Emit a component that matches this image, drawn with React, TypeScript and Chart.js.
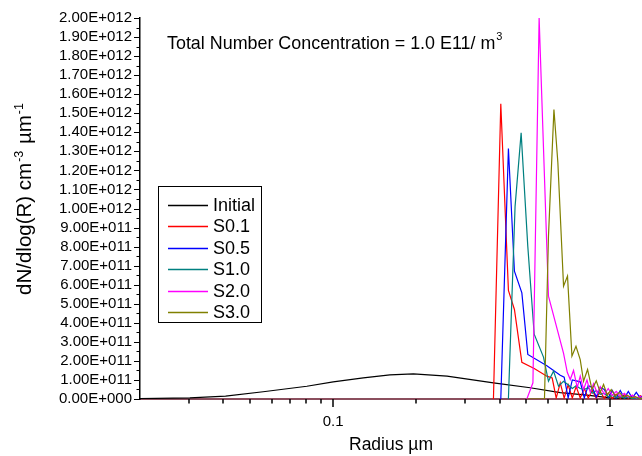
import React, { useEffect, useRef } from 'react';
import { Chart, registerables } from 'chart.js';

Chart.register(...registerables);

const FONT = '"Liberation Sans", Arial, Helvetica, sans-serif';

// [radius (µm), dN/dlog(R) in units of 1E11]
const initial: [number, number][] = [
  [0.02, 0.02], [0.0303, 0.06], [0.0408, 0.15], [0.0558, 0.38], [0.0803, 0.67], [0.1, 0.9],
  [0.1285, 1.11], [0.1604, 1.27], [0.195, 1.32], [0.2582, 1.2], [0.38, 0.85], [0.516, 0.59],
  [0.663, 0.33], [0.828, 0.2], [1.006, 0.06], [1.31, 0.01],
];
const s01: [number, number][] = [
  [0.38, 0], [0.404, 15.5], [0.4305, 5.7], [0.4526, 4.7], [0.4815, 1.93], [0.5336, 1.6],
  [0.593, 1.2], [0.62, 1.1], [0.641, 0.05], [0.663, 0.85], [0.685, 0.05], [0.708, 0.75],
  [0.733, 0.05], [0.757, 0.65], [0.783, 0.05], [0.81, 0.55], [0.837, 0.05], [0.866, 0.45],
  [0.895, 0.04], [0.925, 0.38], [0.957, 0.04], [0.989, 0.32], [1.023, 0.03], [1.057, 0.26],
  [1.093, 0.03], [1.131, 0.22], [1.169, 0.03], [1.208, 0.2], [1.249, 0.02], [1.292, 0.17],
  [1.336, 0.02],
];
const s05: [number, number][] = [
  [0.404, 0], [0.4305, 13.15], [0.4526, 6.71], [0.4815, 5.57], [0.506, 2.34], [0.593, 1.75],
  [0.663, 1.25], [0.685, 1.15], [0.708, 0.06], [0.733, 1.0], [0.757, 0.95], [0.783, 0.9],
  [0.81, 0.06], [0.837, 0.7], [0.866, 0.6], [0.895, 0.1], [0.925, 0.6], [0.957, 0.5],
  [0.989, 0.08], [1.023, 0.45], [1.057, 0.05], [1.093, 0.45], [1.131, 0.05], [1.169, 0.4],
  [1.208, 0.05], [1.249, 0.35], [1.292, 0.05], [1.336, 0.3],
];
const s10: [number, number][] = [
  [0.4305, 0], [0.455, 10.1], [0.4786, 13.97], [0.506, 8.0], [0.5336, 3.4], [0.5766, 2.2],
  [0.601, 0.93], [0.627, 1.46], [0.6534, 0.67], [0.6815, 0.93], [0.708, 0.75], [0.733, 0.55],
  [0.757, 0.7], [0.783, 0.55], [0.81, 0.5], [0.837, 0.6], [0.866, 0.3], [0.895, 0.45],
  [0.925, 0.25], [0.957, 0.3], [0.989, 0.12], [1.023, 0.18], [1.057, 0.08], [1.093, 0.12],
  [1.131, 0.05], [1.169, 0.08], [1.208, 0.03], [1.249, 0.05], [1.292, 0.02], [1.336, 0.03],
];
const s20: [number, number][] = [
  [0.502, 0], [0.528, 0.85], [0.556, 20.0], [0.601, 5.4], [0.6815, 2.4], [0.7029, 1.4],
  [0.7206, 1.02], [0.7406, 1.5], [0.7638, 0.6], [0.783, 1.2], [0.805, 0.5], [0.8282, 1.0],
  [0.8513, 0.35], [0.875, 0.8], [0.9024, 0.3], [0.925, 0.65], [0.957, 0.25], [0.989, 0.55],
  [1.023, 0.2], [1.057, 0.4], [1.093, 0.15], [1.131, 0.3], [1.169, 0.1], [1.208, 0.2],
  [1.249, 0.06], [1.292, 0.12], [1.336, 0.05],
];
const s30: [number, number][] = [
  [0.502, 0], [0.5813, 0], [0.601, 8.55], [0.629, 15.2], [0.65, 12.4], [0.6815, 5.92],
  [0.7043, 6.45], [0.7307, 2.25], [0.7558, 2.77], [0.783, 2.07], [0.805, 0.93], [0.8324, 1.55],
  [0.8635, 0.5], [0.895, 0.95], [0.925, 0.35], [0.951, 0.76], [0.981, 0.2], [1.014, 0.5],
  [1.049, 0.15], [1.085, 0.35], [1.122, 0.1], [1.159, 0.2], [1.199, 0.06], [1.24, 0.12],
  [1.282, 0.03], [1.326, 0.06],
];

const seriesNames = ['Initial', 'S0.1', 'S0.5', 'S1.0', 'S2.0', 'S3.0'];
const seriesColors = ['#000000', '#ff0000', '#0000ff', '#008080', '#ff00ff', '#808000'];
const seriesData = [initial, s01, s05, s10, s20, s30];
const unit = 1e11;

const xMin = 0.02;
const xMax = 1.31;
const yMin = 0;
const yMax = 2e12;
const yStep = 1e11;
const xLabeled = [0.1, 1];

const xTitle = 'Radius µm';
const yTitleParts: [string, boolean][] = [['dN/dlog(R) cm', false], ['-3', true], [' µm', false], ['-1', true]];
const noteMain = 'Total Number Concentration = 1.0 E11/ m';
const noteSup = '3';

const fmtSci = (v: number) => {
  if (Math.abs(v) < 1e-6) return '0.00E+000';
  const e = Math.floor(Math.log10(v) + 1e-9);
  const m = v / Math.pow(10, e);
  return m.toFixed(2) + 'E+' + String(e).padStart(3, '0');
};

const decor = {
  id: 'decor',
  afterDraw(chart: any) {
    const { ctx, chartArea: a, scales } = chart;
    const xs = scales.x;
    const ys = scales.y;
    ctx.save();
    ctx.strokeStyle = '#000';
    // y ticks (major + minor)
    ctx.lineWidth = 1;
    const yt = ys.ticks.map((t: any) => t.value);
    for (let i = 0; i < yt.length; i++) {
      const py = Math.round(ys.getPixelForValue(yt[i])) + 0.5;
      ctx.beginPath(); ctx.moveTo(a.left - 6, py); ctx.lineTo(a.left, py); ctx.stroke();
      if (i < yt.length - 1) {
        const pm = Math.round(ys.getPixelForValue((yt[i] + yt[i + 1]) / 2)) + 0.5;
        ctx.beginPath(); ctx.moveTo(a.left - 3.5, pm); ctx.lineTo(a.left, pm); ctx.stroke();
      }
    }
    // x ticks (log major/minor)
    ctx.lineWidth = 1.5;
    xs.ticks.forEach((t: any) => {
      const v = t.value;
      if (v <= xMin * 1.0001 || v > xMax) return;
      const m = v / Math.pow(10, Math.floor(Math.log10(v) + 1e-9));
      if (Math.abs(m - Math.round(m)) > 1e-6) return;
      const px = Math.round(xs.getPixelForValue(v));
      const len = Math.round(m) === 1 ? 8 : 4.5;
      ctx.beginPath(); ctx.moveTo(px, a.bottom); ctx.lineTo(px, a.bottom + len); ctx.stroke();
    });
    // y title with superscripts
    ctx.fillStyle = '#000';
    ctx.textBaseline = 'alphabetic';
    ctx.textAlign = 'left';
    const bigF = `20.5px ${FONT}`;
    const supF = `12.5px ${FONT}`;
    let total = 0;
    const widths = yTitleParts.map(([t, sup]) => {
      ctx.font = sup ? supF : bigF;
      const w = ctx.measureText(t).width + (sup ? 2 : 0);
      total += w;
      return w;
    });
    ctx.save();
    ctx.translate(31, (a.top + a.bottom) / 2 - 10);
    ctx.rotate(-Math.PI / 2);
    let xx = -total / 2;
    yTitleParts.forEach(([t, sup], i) => {
      ctx.font = sup ? supF : bigF;
      ctx.fillText(t, xx + (sup ? 1 : 0), sup ? -8.5 : 0);
      xx += widths[i];
    });
    ctx.restore();
    // annotation
    ctx.font = `17.9px ${FONT}`;
    ctx.fillText(noteMain, 167, 48.5);
    const nw = ctx.measureText(noteMain).width;
    ctx.font = `11px ${FONT}`;
    ctx.fillText(noteSup, 167 + nw + 1, 40);
    // legend
    const lx = 158.5, ly = 186.5, lw = 103, lh = 136;
    ctx.lineWidth = 1;
    ctx.strokeStyle = '#000';
    ctx.strokeRect(lx, ly, lw, lh);
    ctx.font = `18px ${FONT}`;
    ctx.textBaseline = 'middle';
    chart.data.datasets.forEach((d: any, i: number) => {
      const yy = Math.floor(205 + i * 21.5) + 0.5;
      ctx.strokeStyle = d.borderColor;
      ctx.lineWidth = 1.3;
      ctx.beginPath(); ctx.moveTo(168, yy); ctx.lineTo(208, yy); ctx.stroke();
      ctx.fillStyle = '#000';
      ctx.fillText(d.label, 213, yy + 0.5);
    });
    ctx.restore();
  },
};

export default function App() {
  const ref = useRef<HTMLCanvasElement>(null);
  useEffect(() => {
    const canvas = ref.current!;
    const chart = new Chart(canvas, {
      type: 'line',
      data: {
        datasets: seriesData.map((d, i) => ({
          label: seriesNames[i],
          data: d.map(([r, v]) => ({ x: r, y: v * unit })),
          borderColor: seriesColors[i],
          backgroundColor: seriesColors[i],
          borderWidth: 1.2,
          pointRadius: 0,
          tension: 0,
          fill: false,
          order: seriesData.length - i,
        })),
      },
      options: {
        responsive: false,
        animation: false,
        events: [],
        layout: { padding: { top: 18, right: 0, bottom: 0, left: 0 } },
        plugins: { legend: { display: false }, tooltip: { enabled: false }, title: { display: false } },
        scales: {
          x: {
            type: 'logarithmic',
            min: xMin,
            max: xMax,
            grid: { display: false, drawTicks: false },
            border: { display: true, color: '#8b4f5e', width: 2 },
            ticks: {
              autoSkip: false,
              maxRotation: 0,
              padding: 14,
              color: '#000',
              font: { family: FONT, size: 15 },
              callback: (v: any) => {
                const n = Number(v);
                const hit = xLabeled.find((t) => Math.abs(n - t) < 1e-9);
                return hit === undefined ? '' : String(hit);
              },
            },
            title: {
              display: true,
              text: xTitle,
              color: '#000',
              font: { family: FONT, size: 17.5, lineHeight: 1.2 },
              padding: 0,
            },
            afterFit: (s: any) => {
              s.height = 57;
              s.paddingLeft = 0;
              s.paddingRight = 0;
            },
          },
          y: {
            type: 'linear',
            min: yMin,
            max: yMax,
            grid: { display: false, drawTicks: false },
            border: { display: true, color: '#000', width: 1.5 },
            ticks: {
              stepSize: yStep,
              autoSkip: false,
              padding: 8,
              color: '#000',
              font: { family: FONT, size: 15 },
              callback: (v: any) => fmtSci(Number(v)),
            },
            afterFit: (s: any) => { s.width = 140; },
          },
        },
      },
      plugins: [decor],
    } as any);
    return () => chart.destroy();
  }, []);
  return (
    <canvas
      ref={ref}
      width={642}
      height={456}
      style={{ position: 'absolute', left: 0, top: 0, width: 642, height: 456 }}
    />
  );
}
